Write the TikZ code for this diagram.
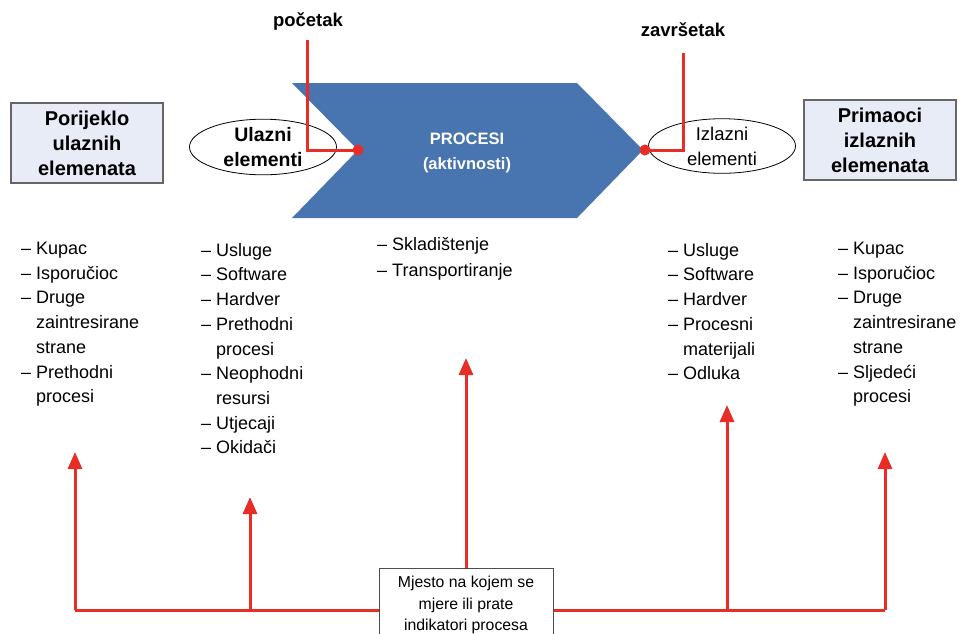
\documentclass[tikz,border=0pt]{standalone}
\usepackage{fontspec}
\setmainfont{Liberation Sans}
\usepackage{tikz}
\usetikzlibrary{arrows.meta,shapes.geometric,positioning}

\definecolor{procplava}{RGB}{72,117,176}
\definecolor{mjcrvena}{RGB}{232,44,38}
\definecolor{okvirpoz}{RGB}{231,236,246}

\newcommand{\dalje}{\phantom{– }}

\begin{document}
\begin{tikzpicture}[x=1pt,y=-1pt,
  izvor/.style={draw=black!60,fill=okvirpoz,line width=1.2pt,minimum width=152pt,
    minimum height=80pt,align=center,inner sep=0pt,font=\fontsize{20}{25}\selectfont\bfseries},
  elem/.style={draw,ellipse,line width=0.8pt,minimum width=147pt,minimum height=53pt,
    align=center,inner sep=0pt},
  popis/.style={anchor=north west,align=left,inner sep=0pt,font=\fontsize{18}{24.7}\selectfont},
  crvena/.style={mjcrvena,line width=3pt},
  strelica/.style={crvena,-{Triangle[width=14pt,length=17pt]}},
  naslov/.style={font=\fontsize{18.5}{22}\selectfont\bfseries}]
\clip (0,0) rectangle (960,633);
\fill[white] (0,0) rectangle (960,633);

% proces
\fill[procplava] (292,83) -- (577,83) -- (643,150) -- (577,218) -- (292,218) -- (358,150) -- cycle;
\node[text=white,align=center,font=\fontsize{16.5}{25}\selectfont\bfseries] (proc) at (467,153) {PROCESI\\(aktivnosti)};

% ulaz / izlaz
\node[izvor] (porijeklo) at (87,143) {Porijeklo\\ulaznih\\elemenata};
\node[izvor] (primaoci) at (880,140) {Primaoci\\izlaznih\\elemenata};
\node[elem,font=\fontsize{19.5}{25}\selectfont\bfseries] (ulazni) at (263,147) {Ulazni\\elementi};
\node[elem,font=\fontsize{18.5}{25}\selectfont] (izlazni) at (722,146) {Izlazni\\elementi};

% pocetak i zavrsetak
\node[naslov] (pocetak) at (308,22) {početak};
\node[naslov] (zavrsetak) at (683,30) {završetak};
\coordinate (pocT) at (358,150);
\coordinate (zavT) at (645,150);
\coordinate (pocV) at (307,40);
\coordinate (zavV) at (683,53);
\draw[crvena] (pocV) |- (pocT);
\draw[crvena] (zavV) |- (zavT);
\fill[mjcrvena] (pocT) circle(5.5);
\fill[mjcrvena] (zavT) circle(5.5);

% popisi
\node[popis] (popis1) at (21,242) {– Kupac\\– Isporučioc\\– Druge\\\dalje zaintresirane\\\dalje strane\\– Prethodni\\\dalje procesi};
\node[popis] (popis2) at (201,243) {– Usluge\\– Software\\– Hardver\\– Prethodni\\\dalje procesi\\– Neophodni\\\dalje resursi\\– Utjecaji\\– Okidači};
\node[popis,font=\fontsize{18}{26}\selectfont] (popis3) at (377,237) {– Skladištenje\\– Transportiranje};
\node[popis] (popis4) at (668,243) {– Usluge\\– Software\\– Hardver\\– Procesni\\\dalje materijali\\– Odluka};
\node[popis] (popis5) at (838,242) {– Kupac\\– Isporučioc\\– Druge\\\dalje zaintresirane\\\dalje strane\\– Sljedeći\\\dalje procesi};

% mjesto mjerenja
\coordinate (dnoL) at (75,610);
\coordinate (dnoD) at (885,610);
\draw[crvena] (dnoL) -- (dnoD);
\foreach \x/\y/\n in {75/452/1,250/497/2,727/405/4,885/452/5} {
  \coordinate (od\n) at (\x,610);
  \coordinate (do\n) at (\x,\y);
  \draw[strelica] (od\n) -- (do\n);
}
\node[draw=black!70,fill=white,line width=1pt,minimum width=174pt,minimum height=74pt,
  align=center,inner sep=0pt,font=\fontsize{15.8}{21.5}\selectfont] (mjesto) at (466,605)
  {Mjesto na kojem se\\mjere ili prate\\indikatori procesa};
\coordinate (do3) at (466,358);
\draw[strelica] (mjesto.north) -- (do3);
\end{tikzpicture}
\end{document}
